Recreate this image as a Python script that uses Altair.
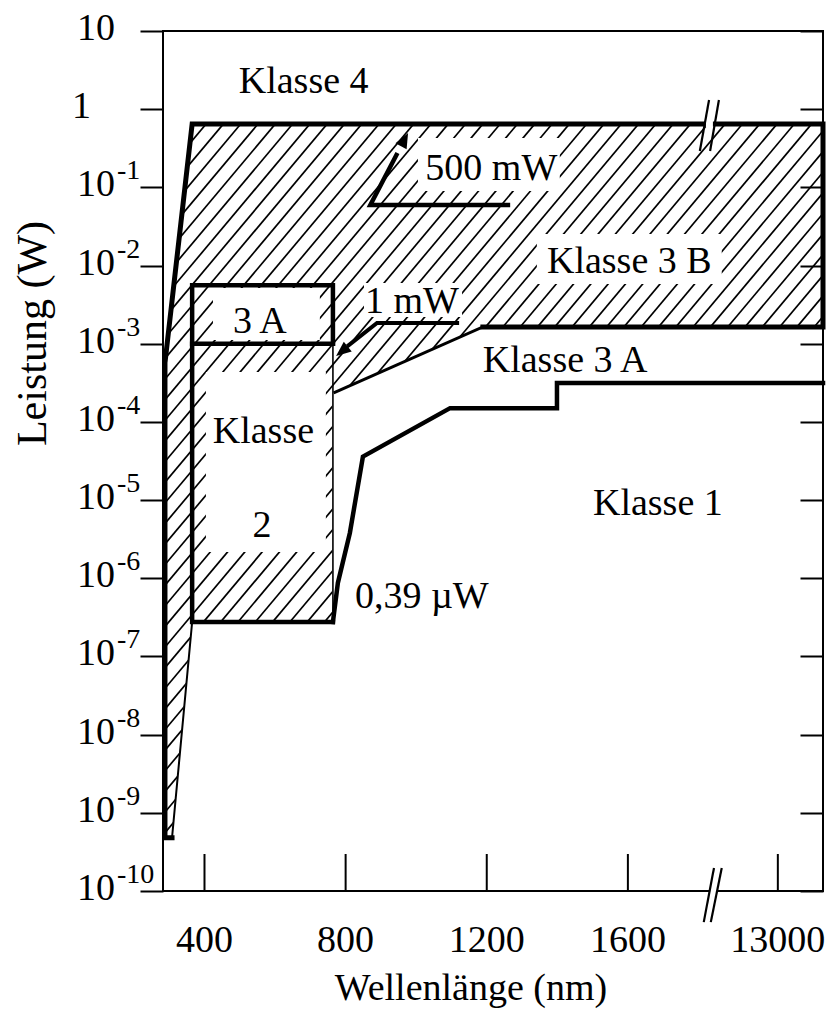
import math
import altair as alt
import numpy as np
import pandas as pd

# ---------------- values ----------------
# wavelength in nm, power in W
P_LO, P_HI = 1e-10, 10.0
X_LO, X_HI = 282.4, 2153.0           # axis units (after the break 2153 == 13400 nm)
BREAK_EXPR = "datum.wl < 5000 ? datum.wl : 2025 + (datum.wl - 13000) * 0.32"

X_TICKS = [400, 800, 1200, 1600, 13000]
X_TICK_LABELS = ["400", "800", "1200", "1600", "13000"]
Y_EXPONENTS = [1, 0, -1, -2, -3, -4, -5, -6, -7, -8, -9, -10]

# upper limit of class 3B (incl. UV edge)
LIM_3B_WL = [308, 288, 288, 365, 13400, 13400, 1189]
LIM_3B_P = [4.8e-10, 4.8e-10, 5.7e-4, 0.645, 0.645, 1.64e-3, 1.64e-3]
# upper limit of class 3A in the near IR
LIM_3A_IR_WL = [1189, 770]
LIM_3A_IR_P = [1.64e-3, 2.4e-4]
# visible range box
BOX_WL = [365, 764]
LIM_3A_VIS_P = 5.6e-3
LIM_2_P = 1e-3
LIM_1_VIS_P = 2.76e-7
# class 1 limit, UV
LIM_1_UV_WL = [308, 365]
LIM_1_UV_P = [4.8e-10, 2.76e-7]
# class 1 limit, IR
LIM_1_IR_WL = [764, 778, 812, 849, 1096, 1399, 1399, 13400]
LIM_1_IR_P = [2.76e-7, 8.7e-7, 3.8e-6, 3.6e-5, 1.5e-4, 1.5e-4, 3.15e-4, 3.15e-4]

# annotation arrows (shaft points, tip)
ARROW_500_WL = [1260, 870, 944]
ARROW_500_P = [0.0594, 0.0594, 0.259]
ARROW_500_TIP = (977, 0.495)
ARROW_1_WL = [1116, 889, 809]
ARROW_1_P = [1.84e-3, 1.84e-3, 9.6e-4]
ARROW_1_TIP = (773, 6.97e-4)

# labels inside the plot (axis units, power)
LABEL_TEXT = ["Klasse 4", "Klasse 3 B", "500 mW", "1 mW", "Klasse 3 A",
              "3 A", "Klasse", "2", "Klasse 1", "0,39 µW"]
LABEL_X = [681, 1604, 1213, 988, 1422, 557, 567, 563, 1685, 1016]
LABEL_P = [1.61, 8.0e-3, 0.124, 2.47e-3, 4.35e-4, 1.37e-3, 5.37e-5, 3.37e-6, 6.44e-6, 4.17e-7]

# white backgrounds behind labels in the hatched area
BG_X1 = [424, 404, 1342, 1005, 852]
BG_X2 = [727, 744, 1866, 1407, 1130]
BG_P1 = [1.12e-3, 2.17e-6, 5.8e-3, 0.0897, 2.2e-3]
BG_P2 = [5.16e-3, 4.35e-4, 0.0253, 0.428, 5.98e-3]

# ---------------- geometry helpers ----------------
W, H = 660, 860
FONT = "Liberation Serif"

XS = alt.Scale(domain=[X_LO, X_HI], nice=False, zero=False)
YS = alt.Scale(type="log", domain=[P_LO, P_HI], nice=False)
ytick_vals = [10.0 ** k for k in Y_EXPONENTS]


def path(name, wl, p, w=1.0):
    return pd.DataFrame({"seg": name, "i": list(range(len(wl))), "wl": list(wl), "p": list(p), "w": w})


def xenc(field="xp"):
    return alt.X(field + ":Q", scale=XS, axis=None)


def yenc(field="p"):
    return alt.Y(field + ":Q", scale=YS, axis=None)


# hatch pattern (decoration): lines at ~50 degrees, ~17 px apart
px_per_x = W / (X_HI - X_LO)
px_per_dec = H / 11.0
slope = math.tan(math.radians(50)) * px_per_x / px_per_dec
span = 11.0 / slope
gap = 17.3 / px_per_x
rows = []
for j, a in enumerate(np.arange(X_LO - span, X_HI, gap)):
    rows.append({"h": j, "i": 0, "xp": a, "p": P_LO})
    rows.append({"h": j, "i": 1, "xp": a + span, "p": P_HI})
hatch_df = pd.DataFrame(rows)

hatch = alt.Chart(hatch_df).mark_line(color="black", strokeWidth=1.7, clip=True).encode(
    x=xenc(), y=yenc(), detail="h:N", order="i:Q")

# white masks (closed polygons): class 4 region, class 1 region, class 3A band
mask1 = path("k4", [X_LO] + LIM_3B_WL[2:5] + [LIM_3B_WL[4], X_LO],
             [LIM_3B_P[2]] + LIM_3B_P[2:5] + [P_HI, P_HI])
mask2 = path("k1", [X_LO, X_LO, LIM_3B_WL[1]] + LIM_1_UV_WL + LIM_1_IR_WL + [LIM_1_IR_WL[-1]],
             [P_LO, LIM_3B_P[1], LIM_3B_P[1]] + LIM_1_UV_P + LIM_1_IR_P + [P_LO])
mask3 = path("k3a", [BOX_WL[1], BOX_WL[1]] + LIM_3A_IR_WL[::-1] + [LIM_3B_WL[4], LIM_3B_WL[4]],
             [P_LO, LIM_3A_IR_P[1]] + LIM_3A_IR_P[::-1] + [LIM_3A_IR_P[0], P_LO])
masks_df = pd.concat([mask1, mask2, mask3], ignore_index=True)

masks = alt.Chart(masks_df).transform_calculate(xp=BREAK_EXPR).mark_line(
    color="white", fill="white", strokeWidth=1, clip=True).encode(
    x=xenc(), y=yenc(), detail="seg:N", order="i:Q")

bg_df = pd.DataFrame({"x1": BG_X1, "x2": BG_X2, "p1": BG_P1, "p2": BG_P2})
bgs = alt.Chart(bg_df).mark_rect(color="white", opacity=1).encode(
    x=xenc("x1"), x2="x2:Q",
    y=alt.Y("p1:Q", scale=YS,
            axis=alt.Axis(orient="right", offset=-23, values=ytick_vals, tickSize=23,
                          tickWidth=2, labels=False, domain=False, grid=False,
                          title=None, zindex=1)),
    y2="p2:Q")

# boundary lines
box_wl = [BOX_WL[1], BOX_WL[1], BOX_WL[0], BOX_WL[0], BOX_WL[1]]
box_p = [LIM_2_P, LIM_3A_VIS_P, LIM_3A_VIS_P, LIM_1_VIS_P, LIM_1_VIS_P]
lines_df = pd.concat([
    path("lim3b", LIM_3B_WL, LIM_3B_P, 5),
    path("lim3a_ir", LIM_3A_IR_WL, LIM_3A_IR_P, 3),
    path("box", box_wl, box_p, 4.5),
    path("lim2", BOX_WL, [LIM_2_P] * 2, 4.5),
    path("cls2edge", [BOX_WL[1]] * 2, [LIM_2_P, LIM_1_VIS_P], 1.6),
    path("lim1uv", LIM_1_UV_WL, LIM_1_UV_P, 2),
    path("lim1ir", LIM_1_IR_WL, LIM_1_IR_P, 4.5),
    path("arr500", ARROW_500_WL, ARROW_500_P, 4.5),
    path("arr1", ARROW_1_WL, ARROW_1_P, 4),
], ignore_index=True)

lines = alt.Chart(lines_df).transform_calculate(xp=BREAK_EXPR).mark_line(
    color="black", strokeJoin="miter", strokeCap="square").encode(
    x=xenc(), y=yenc(), detail="seg:N", order="i:Q",
    strokeWidth=alt.StrokeWidth("w:Q", scale=None))

heads_df = pd.DataFrame({"wl": [ARROW_500_TIP[0], ARROW_1_TIP[0]],
                         "p": [ARROW_500_TIP[1], ARROW_1_TIP[1]],
                         "a": [28, 231]})
heads = alt.Chart(heads_df).transform_calculate(xp=BREAK_EXPR).mark_point(
    shape="M0,0L-0.42,1L0.42,1Z", filled=True, color="black", opacity=1, size=900).encode(
    x=xenc(), y=yenc(), angle=alt.Angle("a:Q", scale=None))

# frame + left axis
frame_df = pd.DataFrame({"x1": [X_LO], "x2": [X_HI], "p1": [P_LO], "p2": [P_HI]})
frame = alt.Chart(frame_df).mark_rect(fillOpacity=0, stroke="black", strokeWidth=2).encode(
    x=xenc("x1"), x2="x2:Q",
    y=alt.Y("p1:Q", scale=YS,
            axis=alt.Axis(orient="left", values=ytick_vals, tickSize=23, tickWidth=2,
                          labels=False, domain=False, grid=False,
                          title="Leistung (W)", titleFontSize=42, titleX=-118, titleY=302,
                          titleAngle=270, titleAlign="center", titleBaseline="alphabetic",
                          zindex=1)),
    y2="p2:Q")

# x axis ticks (pointing inward), labels and title
xt_df = pd.DataFrame({"wl": X_TICKS, "t": X_TICK_LABELS})
xticks = alt.Chart(xt_df).transform_calculate(xp=BREAK_EXPR).mark_rule(
    color="black", strokeWidth=2).encode(
    x=xenc(), y=alt.value(H - 37), y2=alt.value(H))
xlabels = alt.Chart(xt_df).transform_calculate(xp=BREAK_EXPR).mark_text(
    font=FONT, fontSize=38, color="black", align="center", baseline="alphabetic").encode(
    x=xenc(), y=alt.value(H + 61), text="t:N")
xtitle = alt.Chart(pd.DataFrame({"t": ["Wellenlänge (nm)"]})).mark_text(
    font=FONT, fontSize=38, color="black", align="center", baseline="alphabetic").encode(
    x=alt.value(308), y=alt.value(H + 109), text="t:N")

# axis breaks
gap_df = pd.DataFrame({"x1": [1821, 1833], "x2": [1841, 1852], "p1": [0.645, P_LO], "p2": [0.645, P_LO]})
gaps = alt.Chart(gap_df).mark_rule(color="white", strokeWidth=7).encode(
    x=xenc("x1"), x2="x2:Q", y=yenc("p1"), y2="p2:Q")
slash_df = pd.DataFrame({"x1": [1804, 1833, 1815, 1835], "x2": [1830, 1858, 1844, 1866],
                         "p1": [0.292, 0.292, 4.0e-11, 4.0e-11], "p2": [1.31, 1.31, 1.97e-10, 1.97e-10]})
slashes = alt.Chart(slash_df).mark_rule(color="black", strokeWidth=2.2).encode(
    x=xenc("x1"), x2="x2:Q", y=yenc("p1"), y2="p2:Q")

# labels
lab_df = pd.DataFrame({"t": LABEL_TEXT, "xp": LABEL_X, "p": LABEL_P})
labels = alt.Chart(lab_df).mark_text(font=FONT, fontSize=38, color="black",
                                     align="center", baseline="alphabetic").encode(
    x=xenc(), y=yenc(), text="t:N")

ylab_df = pd.DataFrame({"p": ytick_vals, "k": Y_EXPONENTS,
                        "base": ["1" if k == 0 else "10" for k in Y_EXPONENTS],
                        "exp": ["" if k >= 0 else "-" + str(-k) for k in Y_EXPONENTS]})
ybase = alt.Chart(ylab_df).transform_filter("datum.k != 0").mark_text(
    font=FONT, fontSize=38, color="black", align="left", baseline="alphabetic", dy=9).encode(
    x=alt.value(-86), y=yenc(), text="base:N")
yone = alt.Chart(ylab_df).transform_filter("datum.k == 0").mark_text(
    font=FONT, fontSize=38, color="black", align="left", baseline="alphabetic", dy=9).encode(
    x=alt.value(-91), y=yenc(), text="base:N")
yexp = alt.Chart(ylab_df).transform_filter("datum.exp != ''").mark_text(
    font=FONT, fontSize=28, color="black", align="left", baseline="alphabetic", dy=-8).encode(
    x=alt.value(-46), y=yenc(), text="exp:N")

chart = alt.layer(
    hatch, masks, bgs, lines, heads, frame, xticks, gaps, slashes,
    labels, ybase, yone, yexp, xlabels, xtitle
).properties(
    width=W, height=H,
    padding={"left": 155, "top": 23, "right": 4, "bottom": 118},
    autosize=alt.AutoSizeParams(type="none"),
).configure_view(strokeWidth=0).configure_axis(
    labelFont=FONT, titleFont=FONT, labelColor="black", titleColor="black",
    tickColor="black", titleFontWeight="normal")

chart.save("out.html", embed_options={"renderer": "svg", "actions": False})
